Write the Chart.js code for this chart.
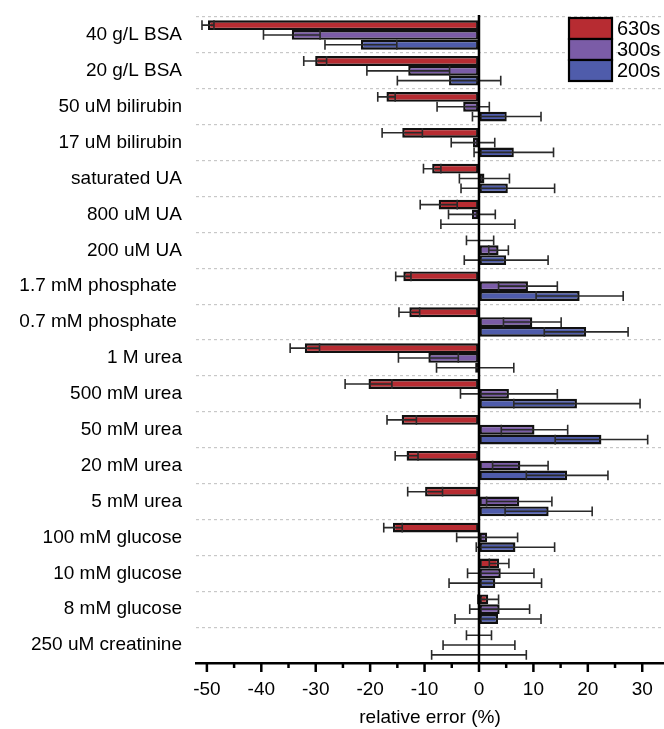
<!DOCTYPE html>
<html>
<head>
<meta charset="utf-8">
<script src="https://cdn.jsdelivr.net/npm/chart.js@4/dist/chart.umd.min.js"></script>
<style>
  html, body { margin: 0; padding: 0; background: #fff; }
  #wrap { width: 664px; height: 729px; position: relative; }
</style>
</head>
<body>
<div id="wrap"><canvas id="chart"></canvas></div>
<script>
// categories (top to bottom)
const categories = ["40 g/L BSA", "20 g/L BSA", "50 uM bilirubin", "17 uM bilirubin", "saturated UA",
  "800 uM UA", "200 uM UA", "1.7 mM phosphate ", "0.7 mM phosphate ", "1 M urea", "500 mM urea",
  "50 mM urea", "20 mM urea", "5 mM urea", "100 mM glucose", "10 mM glucose", "8 mM glucose", "250 uM creatinine"];

const seriesNames = ["630s", "300s", "200s"];

// relative error (%) values
const err630 = [-49.8, -30.1, -17.0, -14.1, -8.6, -7.4, 0.2, -13.9, -12.8, -32.0, -20.3, -14.2, -13.3, -9.9, -15.8, 3.7, 1.7, 0];
const err300 = [-34.4, -13.0, -2.9, -1.1, 1.0, -1.3, 3.6, 9.0, 9.8, -9.3, 5.5, 10.2, 7.6, 7.4, 1.5, 4.0, 3.8, 0];
const err200 = [-21.7, -5.5, 5.1, 6.4, 5.3, -0.2, 5.0, 18.5, 19.7, -0.7, 18.0, 22.5, 16.2, 12.8, 6.7, 3.0, 3.5, 0];

// error bar half widths
const sd630 = [1.1, 2.1, 1.6, 3.7, 1.6, 3.4, 2.5, 1.4, 1.9, 2.7, 4.3, 2.7, 2.1, 3.2, 1.7, 1.8, 1.9, 2.3];
const sd300 = [5.2, 7.6, 4.8, 4.0, 4.6, 4.3, 1.8, 5.4, 5.3, 5.5, 8.9, 6.1, 5.1, 6.0, 5.6, 6.1, 5.5, 6.6];
const sd200 = [6.6, 9.5, 6.3, 7.3, 8.6, 6.8, 7.7, 8.0, 7.7, 7.1, 11.6, 8.5, 7.5, 8.0, 7.2, 8.5, 7.9, 8.7];

// x axis ticks (labels every 10, small marks every 5)
const xTicks = [-50, -45, -40, -35, -30, -25, -20, -15, -10, -5, 0, 5, 10, 15, 20, 25, 30];

const colors = ["#B72C32", "#7B5CA7", "#4F5CAB"];
const FONT = "'Liberation Sans', Arial, sans-serif";

// error bars, symmetric with caps at both ends
const errorBars = {
  id: 'errorBars',
  afterDatasetsDraw(chart) {
    const ctx = chart.ctx;
    const xs = chart.scales.x;
    ctx.save();
    ctx.strokeStyle = '#2a2a2a';
    ctx.lineWidth = 1.6;
    chart.data.datasets.forEach((ds, di) => {
      const meta = chart.getDatasetMeta(di);
      meta.data.forEach((bar, i) => {
        const v = ds.data[i], e = ds.sd[i];
        const x1 = xs.getPixelForValue(v - e);
        const x2 = xs.getPixelForValue(v + e);
        const y = bar.y;
        const h = bar.height / 2;
        ctx.beginPath();
        ctx.moveTo(x1, y); ctx.lineTo(x2, y);
        ctx.moveTo(x1, y - h); ctx.lineTo(x1, y + h);
        ctx.moveTo(x2, y - h); ctx.lineTo(x2, y + h);
        ctx.stroke();
      });
    });
    ctx.restore();
  }
};

// zero line, x tick marks (long at 10s, short at 5s) and the legend box
const extras = {
  id: 'extras',
  afterDraw(chart) {
    const ctx = chart.ctx;
    const xs = chart.scales.x;
    const area = chart.chartArea;
    ctx.save();
    // zero line
    const x0 = xs.getPixelForValue(0);
    ctx.strokeStyle = '#000';
    ctx.lineWidth = 2.5;
    ctx.beginPath();
    ctx.moveTo(x0, area.top - 2);
    ctx.lineTo(x0, area.bottom);
    ctx.stroke();
    // tick marks
    xs.ticks.forEach(t => {
      const px = xs.getPixelForValue(t.value);
      const len = t.value % 10 === 0 ? 9 : 5;
      ctx.beginPath();
      ctx.moveTo(px, area.bottom);
      ctx.lineTo(px, area.bottom + len);
      ctx.stroke();
    });
    // legend
    const bx = area.right - 95, by = area.top + 1, bw = 43, bh = 21;
    ctx.font = '20px ' + FONT;
    ctx.textBaseline = 'middle';
    ctx.textAlign = 'left';
    chart.data.datasets.forEach((ds, i) => {
      const y = by + i * bh;
      ctx.fillStyle = ds.backgroundColor;
      ctx.fillRect(bx, y, bw, bh);
      ctx.lineWidth = 2.2;
      ctx.strokeStyle = '#000';
      ctx.strokeRect(bx, y, bw, bh);
      ctx.fillStyle = '#000';
      ctx.fillText(ds.label, bx + bw + 5, y + bh / 2 + 1);
    });
    ctx.restore();
  }
};

const sds = [sd630, sd300, sd200];
const vals = [err630, err300, err200];

new Chart(document.getElementById('chart'), {
  type: 'bar',
  data: {
    labels: categories,
    datasets: seriesNames.map((name, i) => ({
      label: name,
      data: vals[i],
      sd: sds[i],
      backgroundColor: colors[i],
      borderColor: '#111',
      borderWidth: 2.4,
      borderSkipped: false,
      categoryPercentage: 0.82,
      barPercentage: 1.0
    }))
  },
  options: {
    indexAxis: 'y',
    responsive: true,
    maintainAspectRatio: false,
    animation: false,
    layout: { padding: { top: 17, right: 0, bottom: 0, left: 0 } },
    plugins: {
      legend: { display: false },
      tooltip: { enabled: false }
    },
    scales: {
      x: {
        min: -52,
        max: 34,
        afterBuildTicks: s => { s.ticks = xTicks.map(v => ({ value: v })); },
        afterFit: s => { s.height = 66; s.paddingLeft = 0; s.paddingRight = 0; },
        ticks: {
          autoSkip: false,
          maxRotation: 0,
          padding: 15,
          color: '#000',
          font: { family: FONT, size: 19 },
          callback: v => (v % 10 === 0 ? String(v) : '')
        },
        grid: { drawOnChartArea: false, drawTicks: false },
        border: { display: true, color: '#000', width: 2.5 },
        title: {
          display: true,
          text: 'relative error (%)',
          color: '#000',
          font: { family: FONT, size: 19 },
          padding: { top: 0, bottom: 0 }
        }
      },
      y: {
        afterFit: s => { s.width = 196; s.paddingTop = 0; s.paddingBottom = 0; },
        ticks: {
          padding: 14,
          color: '#000',
          font: { family: FONT, size: 19 }
        },
        grid: { offset: true, drawTicks: false, color: '#c8c8c8', lineWidth: 1.2 },
        border: { display: false, dash: [3, 3] }
      }
    }
  },
  plugins: [errorBars, extras]
});
</script>
</body>
</html>
